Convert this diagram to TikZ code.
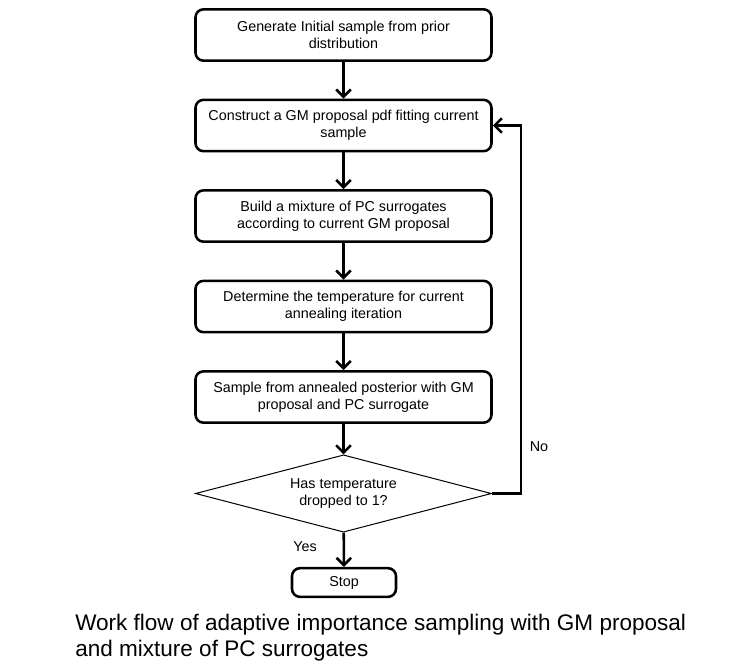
\documentclass[tikz,border=0pt]{standalone}
\usepackage{fontspec}
\setmainfont{Liberation Sans}
\usetikzlibrary{arrows.meta,shapes.geometric}

\tikzset{
	stepbox/.style={draw, rounded corners=6pt, line width=1.9pt, minimum width=222pt, minimum height=38.5pt, inner sep=2pt, align=center, font=\fontsize{10.75}{12.75}\selectfont},
	decision/.style={draw, diamond, line width=0.75pt, aspect=3.8, inner sep=0pt, minimum width=222pt, minimum height=58pt, align=center, font=\fontsize{10.75}{12.75}\selectfont},
	flow/.style={line width=1.9pt, -{Straight Barb[length=5.5pt,width=11pt,line width=1.9pt]}},
	lbl/.style={font=\fontsize{10.75}{12.75}\selectfont}
}

\begin{document}
\begin{tikzpicture}[x=0.75pt,y=0.75pt,yscale=-1,xscale=1]
		%set diagram size
		\useasboundingbox (0,0) rectangle (742,665);
		
		%Shape: Rounded Rectangle
		\node [stepbox] (init) at (343.5,35) {Generate Initial sample from prior\\distribution};
		%Shape: Rounded Rectangle
		\node [stepbox] (gm) at (343.5,125.5) {Construct a GM proposal pdf fitting current\\sample};
		%Shape: Rounded Rectangle
		\node [stepbox] (pc) at (343.5,216) {Build a mixture of PC surrogates\\according to current GM proposal};
		%Shape: Rounded Rectangle
		\node [stepbox] (temp) at (343.5,306.5) {Determine the temperature for current\\annealing iteration};
		%Shape: Rounded Rectangle
		\node [stepbox] (samp) at (343.5,397) {Sample from annealed posterior with GM\\proposal and PC surrogate};
		%Shape: Diamond
		\node [decision] (check) at (343.5,493.5) {Has temperature\\dropped to 1?};
		%Shape: Rounded Rectangle
		\node [stepbox, minimum width=78pt, minimum height=21.5pt] (stop) at (344,582.5) {Stop};
		%Feedback corner
		\coordinate (back) at (521,493.5);
		
		%Straight Lines
		\draw [flow] (init) -- (gm);
		\draw [flow] (gm) -- (pc);
		\draw [flow] (pc) -- (temp);
		\draw [flow] (temp) -- (samp);
		\draw [flow] (samp) -- (check);
		\draw [flow] (check) -- (stop);
		\draw [flow] (check.east) -- (back) |- (gm.east);
		
		% Text Node
		\node [lbl] (no) at (539,447) {No};
		% Text Node
		\node [lbl] (yes) at (305,547) {Yes};
		% Text Node
		\node [anchor=north west, align=left, inner sep=0pt, font=\fontsize{16.9}{19.5}\selectfont] (cap) at (75,614) {Work flow of adaptive importance sampling with GM proposal\\and mixture of PC surrogates};
		
\end{tikzpicture}
\end{document}
